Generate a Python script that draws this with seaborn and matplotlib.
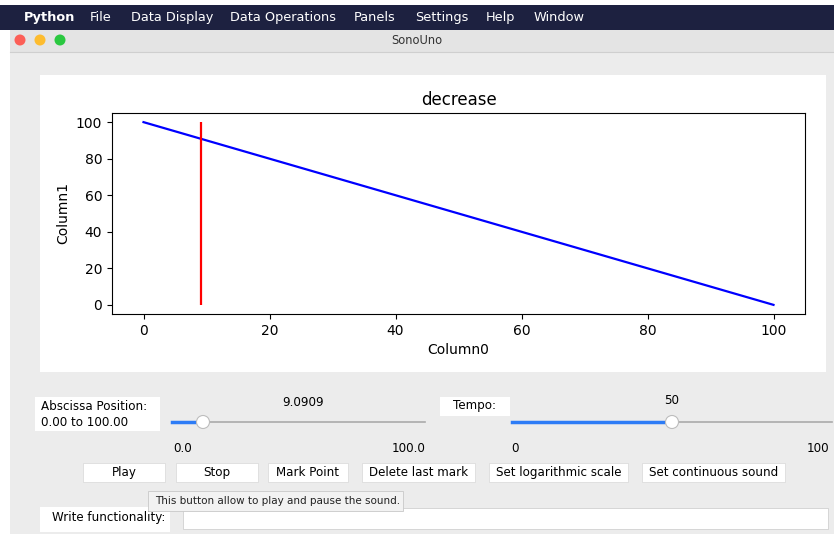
import numpy as np
import pandas as pd
import matplotlib
matplotlib.use("Agg")
import matplotlib.pyplot as plt
import matplotlib.patches as mpatches
import seaborn as sns

# Data shown in the plot
column0 = [0, 100]
column1 = [100, 0]
marker_x = 9.0909
plot_title = "decrease"

# GUI text
menu_items = ["Python", "File", "Data Display", "Data Operations", "Panels", "Settings", "Help", "Window"]
menu_x = [24, 90, 131, 230, 354, 415, 486, 534]
button_labels = ["Play", "Stop", "Mark Point", "Delete last mark", "Set logarithmic scale", "Set continuous sound"]
button_spans = [(83, 165), (176, 258), (268, 348), (362, 475), (489, 628), (642, 785)]
tempo_value = 50

df = pd.DataFrame({"Column0": column0, "Column1": column1})

W, H = 834, 534
fig = plt.figure(figsize=(W / 100, H / 100), dpi=100)

# Background drawn in pixel coordinates
bg = fig.add_axes([0, 0, 1, 1])
bg.set_xlim(0, W)
bg.set_ylim(H, 0)
bg.axis("off")

def rect(x0, y0, x1, y1, fc, ec="none", lw=0.8, z=1):
    bg.add_patch(mpatches.Rectangle((x0, y0), x1 - x0, y1 - y0, fc=fc, ec=ec, lw=lw, zorder=z))

gui_fs = 8.6

rect(0, 0, W, H, "white", z=0)
rect(10, 30, W, H, "#ececec")
rect(0, 5, W, 30, "#1d2140")
rect(10, 30, W, 52, "#e4e4e4")
bg.plot([10, W], [52, 52], color="#cfcfcf", lw=0.8, zorder=2)

for i, (lab, x) in enumerate(zip(menu_items, menu_x)):
    bg.text(x, 17.5, lab, color="white", fontsize=9.3, va="center",
            fontweight="bold" if i == 0 else "normal", zorder=3)

for cx, c in zip([20, 40, 60], ["#fc5f57", "#fdbc2e", "#2ac840"]):
    bg.add_patch(mpatches.Circle((cx, 40), 5.5, fc=c, ec="none", zorder=3))
bg.text(417, 41, "SonoUno", fontsize=8.3, color="#333333", ha="center", va="center", zorder=3)

# white panel behind the plot
rect(40, 75, 826, 372, "white", z=2)

# Slider 1: abscissa position
rect(35, 397, 160, 431, "white", z=2)
bg.text(41, 406, "Abscissa Position:", fontsize=gui_fs, va="center", zorder=3)
bg.text(41, 422, "0.00 to 100.00", fontsize=gui_fs, va="center", zorder=3)
s1_x0, s1_x1, s1_knob = 172, 425, 203
bg.plot([s1_x0, s1_x1], [422, 422], color="#ababab", lw=1.2, zorder=3)
bg.plot([s1_x0, s1_knob], [422, 422], color="#2d7cf6", lw=2.5, zorder=3)
bg.add_patch(mpatches.Circle((s1_knob, 422), 6.5, fc="white", ec="#bdbdbd", lw=0.8, zorder=4))
bg.text(303, 402, f"{marker_x:.4f}", fontsize=gui_fs, ha="center", va="center", zorder=3)
bg.text(183, 449, "0.0", fontsize=gui_fs, ha="center", va="center", zorder=3)
bg.text(409, 449, "100.0", fontsize=gui_fs, ha="center", va="center", zorder=3)

# Slider 2: tempo
rect(440, 397, 510, 416, "white", z=2)
bg.text(475, 406, "Tempo:", fontsize=gui_fs, ha="center", va="center", zorder=3)
s2_x0, s2_x1, s2_knob = 512, 832, 672
bg.plot([s2_x0, s2_x1], [422, 422], color="#ababab", lw=1.2, zorder=3)
bg.plot([s2_x0, s2_knob], [422, 422], color="#2d7cf6", lw=2.5, zorder=3)
bg.add_patch(mpatches.Circle((s2_knob, 422), 6.5, fc="white", ec="#bdbdbd", lw=0.8, zorder=4))
bg.text(672, 401, str(tempo_value), fontsize=gui_fs, ha="center", va="center", zorder=3)
bg.text(515, 449, "0", fontsize=gui_fs, ha="center", va="center", zorder=3)
bg.text(818, 449, "100", fontsize=gui_fs, ha="center", va="center", zorder=3)

# Buttons
for lab, (x0, x1) in zip(button_labels, button_spans):
    rect(x0, 463, x1, 482, "white", ec="#dcdcdc", lw=0.6, z=2)
    bg.text((x0 + x1) / 2, 472.5, lab, fontsize=gui_fs, ha="center", va="center", zorder=3)

# Write functionality row
rect(40, 507, 170, 532, "white", z=2)
bg.text(52, 517, "Write functionality:", fontsize=gui_fs, va="center", zorder=3)
rect(183, 508, 828, 529, "white", ec="#d0d0d0", lw=0.6, z=2)

# Tooltip
rect(148, 491, 403, 511, "#f2f2f2", ec="#c8c8c8", lw=0.6, z=5)
bg.text(155, 501, "This button allow to play and pause the sound.", fontsize=7.5,
        va="center", color="#222222", zorder=6)

# The plot itself
ax = fig.add_axes([112 / W, 1 - 314 / H, (805 - 112) / W, (314 - 113) / H])
sns.lineplot(data=df, x="Column0", y="Column1", color="blue", lw=1.6, ax=ax)
ax.vlines(marker_x, min(column1), max(column1), color="red", lw=1.6)
ax.set_title(plot_title, fontsize=12)
ax.set_xlabel("Column0", fontsize=10)
ax.set_ylabel("Column1", fontsize=10)
ax.tick_params(labelsize=10)
ax.set_xticks([0, 20, 40, 60, 80, 100])
ax.set_yticks([0, 20, 40, 60, 80, 100])

fig.savefig("out.png", dpi=100)
